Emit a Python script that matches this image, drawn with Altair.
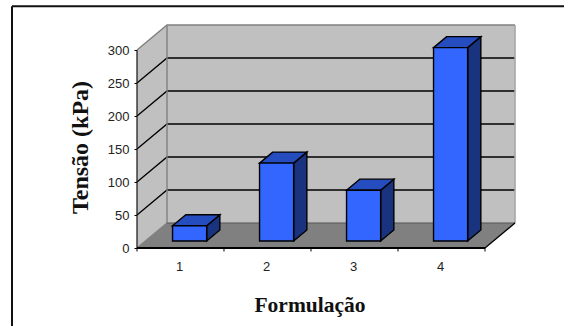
import altair as alt
import pandas as pd

# Bar heights in kPa
formulations = [1, 2, 3, 4]
tension = [23, 118, 77, 293]
y_ticks = [0, 50, 100, 150, 200, 250, 300]
inner_gridlines = [50, 100, 150, 200, 250]
category_centres = [0.5, 1.5, 2.5, 3.5]

# Oblique projection: one unit of depth shifts along both data axes
DEPTH_X = 0.345
DEPTH_Y = 37.9
BAR_HALF_WIDTH = 0.196
BAR_SHIFT = 0.008
BAR_DEPTH = (0.28, 0.72)
X_MAX = 4 + DEPTH_X
Y_MAX = 300 + DEPTH_Y

FRONT = "#3366ff"
TOP = "#264dbf"
SIDE = "#1a337f"
WALL = "#c0c0c0"
FLOOR = "#808080"

x_scale = alt.Scale(domain=[0, X_MAX], nice=False, zero=False)
y_scale = alt.Scale(domain=[0, Y_MAX], nice=False, zero=False)

# Both axes carry tick labels and titles; their domain lines are drawn with the box
x_axis = alt.Axis(
    values=category_centres, labelExpr="datum.value + 0.5",
    domain=False, grid=False, ticks=False, labelPadding=12, labelOffset=-1.3,
    labelFont="Liberation Sans", labelFontSize=13, labelColor="#222222",
    title="Formulação", titleFont="Liberation Serif", titleFontWeight="bold",
    titleFontSize=21.5, titleColor="#111111", titleX=172.5, titleY=63,
    titleBaseline="alphabetic",
)
y_axis = alt.Axis(
    values=y_ticks, domain=False, grid=False, tickSize=3, tickColor="#000000",
    tickWidth=1, labelPadding=5, labelFont="Liberation Sans", labelFontSize=13,
    labelColor="#222222", title="Tensão (kPa)", titleFont="Liberation Serif",
    titleFontWeight="bold", titleFontSize=24, titleColor="#111111",
    titleX=-45, titleY=122,
)
X = alt.X("x:Q", scale=x_scale, axis=x_axis)
Y = alt.Y("y:Q", scale=y_scale, axis=y_axis)


def px(cat, depth):
    return cat + depth * DEPTH_X


def py(value, depth):
    return value + depth * DEPTH_Y


def vertical_face(rows, **mark):
    # Parallelogram with vertical sides
    return alt.Chart(pd.DataFrame(rows)).mark_area(**mark).encode(
        x=X, y=Y, y2="y2:Q", detail="face:N"
    )


def horizontal_face(rows, **mark):
    # Parallelogram with horizontal sides
    return alt.Chart(pd.DataFrame(rows)).mark_area(orient="horizontal", **mark).encode(
        y=Y, x=X, x2="x2:Q", detail="face:N"
    )


def polyline(rows, color, width):
    return alt.Chart(pd.DataFrame(rows)).mark_line(
        color=color, strokeWidth=width, clip=False
    ).encode(x=X, y=Y, detail="id:N", order="o:O")


# Walls and floor of the box
back_wall = alt.Chart(pd.DataFrame([
    {"x": px(0, 1), "x2": px(4, 1), "y": py(0, 1), "y2": py(300, 1)}
])).mark_rect(color=WALL).encode(x=X, x2="x2:Q", y=Y, y2="y2:Q")

left_wall = vertical_face(
    [{"face": "left", "x": px(0, d), "y": py(0, d), "y2": py(300, d)} for d in (0, 1)],
    color=WALL,
)
floor = horizontal_face(
    [{"face": "floor", "y": py(0, d), "x": px(0, d), "x2": px(4, d)} for d in (0, 1)],
    color=FLOOR,
)

# Gridlines run along the left wall and across the back wall
grid_rows = []
for v in inner_gridlines:
    for o, (c, d) in enumerate([(0, 0), (0, 1), (4, 1)]):
        grid_rows.append({"id": v, "o": o, "x": px(c, d), "y": py(v, d)})
gridlines = polyline(grid_rows, "#000000", 1.3)

# Box edges
gray_edges = polyline(
    [{"id": "top", "o": o, "x": px(c, d), "y": py(300, d)}
     for o, (c, d) in enumerate([(0, 0), (0, 1), (4, 1)])]
    + [{"id": "corner", "o": o, "x": px(0, 1), "y": py(v, 1)}
       for o, v in enumerate([0, 300])]
    + [{"id": "foot", "o": o, "x": px(0, d), "y": py(0, d)}
       for o, d in enumerate([0, 1])],
    "#808080", 1.4,
)
right_edge = polyline(
    [{"id": "right", "o": o, "x": px(4, 1), "y": py(v, 1)}
     for o, v in enumerate([0, 300])],
    "#a6a6a6", 1.6,
)
floor_back = polyline(
    [{"id": "back", "o": o, "x": px(c, 1), "y": py(0, 1)} for o, c in enumerate([0, 4])],
    "#555555", 1.0,
)
floor_diag = polyline(
    [{"id": "diag", "o": o, "x": px(4, d), "y": py(0, d)} for o, d in enumerate([0, 1])],
    "#000000", 1.3,
)
axis_lines = polyline(
    [{"id": "xaxis", "o": o, "x": c, "y": 0} for o, c in enumerate([0, 4])],
    "#000000", 1.8,
) + polyline(
    [{"id": "yaxis", "o": o, "x": 0, "y": v} for o, v in enumerate([0, 300])],
    "#111111", 1.2,
)

# Three faces of each bar
d0, d1 = BAR_DEPTH
front_rows, side_rows, top_rows = [], [], []
for f, c, v in zip(formulations, category_centres, tension):
    left, right = c + BAR_SHIFT - BAR_HALF_WIDTH, c + BAR_SHIFT + BAR_HALF_WIDTH
    front_rows.append({"x": px(left, d0), "x2": px(right, d0),
                       "y": py(0, d0), "y2": py(v, d0)})
    for d in BAR_DEPTH:
        side_rows.append({"face": f, "x": px(right, d), "y": py(0, d), "y2": py(v, d)})
        top_rows.append({"face": f, "y": py(v, d), "x": px(left, d), "x2": px(right, d)})

outline = dict(stroke="#000000", strokeWidth=1.4, strokeJoin="miter")
bar_front = alt.Chart(pd.DataFrame(front_rows)).mark_rect(color=FRONT, **outline).encode(
    x=X, x2="x2:Q", y=Y, y2="y2:Q"
)
bar_side = vertical_face(side_rows, color=SIDE, **outline)
bar_top = horizontal_face(top_rows, color=TOP, **outline)

x_ticks = alt.Chart(pd.DataFrame({"x": [0, 1, 2, 3, 4]})).mark_rule(
    color="#000000", strokeWidth=1
).encode(x=X, y=alt.value(223), y2=alt.value(226.5))

# Frame along the top and left of the figure
frame = alt.Chart(pd.DataFrame({"a": [0]})).mark_rule(color="#111111", strokeWidth=2).encode(
    x=alt.value(-125), x2=alt.value(427), y=alt.value(-18.7), y2=alt.value(-18.7)
) + alt.Chart(pd.DataFrame({"a": [0]})).mark_rule(color="#111111", strokeWidth=2).encode(
    x=alt.value(-125), x2=alt.value(-125), y=alt.value(-18.7), y2=alt.value(301)
)

chart = alt.layer(
    back_wall, left_wall, floor, gridlines, gray_edges, right_edge, floor_back,
    floor_diag, axis_lines, x_ticks, bar_side, bar_top, bar_front, frame,
).properties(
    width=378,
    height=223,
    autosize=alt.AutoSizeParams(type="none"),
    padding={"left": 137, "top": 25, "right": 49, "bottom": 78},
).configure_view(stroke=None)

chart.save("out.html", embed_options={"renderer": "svg", "actions": False})
